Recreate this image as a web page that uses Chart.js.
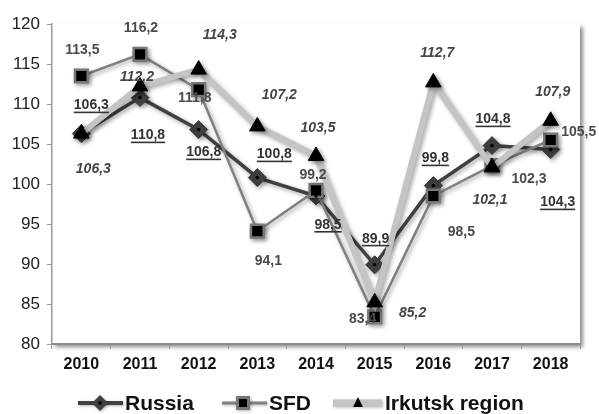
<!DOCTYPE html>
<html>
<head>
<meta charset="utf-8">
<script src="https://cdn.jsdelivr.net/npm/chart.js@4/dist/chart.umd.min.js"></script>
<style>
  html, body { margin: 0; padding: 0; background: #fff; }
  #wrap { width: 599px; height: 414px; }
</style>
</head>
<body>
<div id="wrap"><canvas id="chart" width="599" height="414"></canvas></div>
<script>
const years = ['2010', '2011', '2012', '2013', '2014', '2015', '2016', '2017', '2018'];
const russia = [106.3, 110.8, 106.8, 100.8, 98.5, 89.9, 99.8, 104.8, 104.3];
const sfd = [113.5, 116.2, 111.8, 94.1, 99.2, 83.4, 98.5, 102.3, 105.5];
const irkutsk = [106.3, 112.2, 114.3, 107.2, 103.5, 85.2, 112.7, 102.1, 107.9];

// where each value label sits, relative to its point (px)
const russiaLabelShift = [[10, -28], [8, 38], [5, 23], [17, -23], [12, 29], [1, -26], [2, -27], [1, -26], [7, 53]];
const sfdLabelShift = [[1, -26], [1, -26], [-4, 9], [11, 30], [-3, -15], [-12, 2], [28, 36], [37, 14], [28, -8]];
const irkLabelShift = [[12, 36], [-3, -9], [21, -34], [22, -31], [2, -28], [38, 11], [4, -29], [-2, 33], [2, -29]];

const fmt = v => v.toFixed(1).replace('.', ',');

// white plot area with a soft shadow on the right and bottom
const plotShadow = {
    id: 'plotShadow',
    beforeDraw(chart) {
        const { ctx, chartArea: a } = chart;
        ctx.save();
        ctx.shadowColor = 'rgba(0,0,0,0.45)';
        ctx.shadowBlur = 4;
        ctx.shadowOffsetX = 3;
        ctx.shadowOffsetY = 3;
        ctx.fillStyle = '#fff';
        ctx.fillRect(a.left, a.top, a.right - a.left, a.bottom - a.top);
        ctx.restore();
    }
};

// shadows under lines and markers
const markShadow = {
    id: 'markShadow',
    beforeDatasetDraw(chart) {
        const ctx = chart.ctx;
        ctx.save();
        ctx.shadowColor = 'rgba(0,0,0,0.35)';
        ctx.shadowBlur = 4;
        ctx.shadowOffsetX = 2;
        ctx.shadowOffsetY = 2;
    },
    afterDatasetDraw(chart) {
        chart.ctx.restore();
    }
};

const valueLabels = {
    id: 'valueLabels',
    afterDatasetsDraw(chart) {
        const ctx = chart.ctx;
        // black dot in the middle of each Russia diamond
        chart.getDatasetMeta(0).data.forEach(p => {
            ctx.beginPath();
            ctx.arc(p.x, p.y, 1.8, 0, Math.PI * 2);
            ctx.fillStyle = '#000';
            ctx.fill();
        });

        const sets = [
            { vals: russia, shift: russiaLabelShift, font: 'bold 14px "Liberation Sans", Arial', color: '#333', underline: true },
            { vals: sfd, shift: sfdLabelShift, font: 'bold 14px "Liberation Sans", Arial', color: '#4a4a4a', underline: false },
            { vals: irkutsk, shift: irkLabelShift, font: 'italic bold 14px "Liberation Sans", Arial', color: '#444', underline: false }
        ];
        ctx.save();
        ctx.textAlign = 'center';
        ctx.textBaseline = 'middle';
        sets.forEach((s, di) => {
            const meta = chart.getDatasetMeta(di);
            meta.data.forEach((p, i) => {
                const x = p.x + s.shift[i][0];
                const y = p.y + s.shift[i][1];
                const txt = fmt(s.vals[i]);
                ctx.font = s.font;
                ctx.fillStyle = s.color;
                ctx.fillText(txt, x, y);
                if (s.underline) {
                    const w = ctx.measureText(txt).width;
                    ctx.fillRect(x - w / 2, y + 6, w, 1.6);
                }
            });
        });
        ctx.restore();
    }
};

// legend with line + marker samples
const legendRow = {
    id: 'legendRow',
    afterDraw(chart) {
        const ctx = chart.ctx;
        const y = 403;
        ctx.save();
        ctx.shadowColor = 'rgba(0,0,0,0.3)';
        ctx.shadowBlur = 3;
        ctx.shadowOffsetX = 1;
        ctx.shadowOffsetY = 1;

        // Russia
        ctx.strokeStyle = '#404040';
        ctx.lineWidth = 4;
        ctx.beginPath(); ctx.moveTo(78, y); ctx.lineTo(123, y); ctx.stroke();
        ctx.fillStyle = '#404040';
        ctx.beginPath();
        ctx.moveTo(100, y - 8); ctx.lineTo(108, y); ctx.lineTo(100, y + 8); ctx.lineTo(92, y);
        ctx.closePath(); ctx.fill();

        // SFD
        ctx.strokeStyle = '#808080';
        ctx.lineWidth = 3;
        ctx.beginPath(); ctx.moveTo(222, y); ctx.lineTo(267, y); ctx.stroke();
        ctx.fillStyle = '#777';
        ctx.fillRect(236, y - 7, 14, 14);

        // Irkutsk region
        ctx.strokeStyle = '#c4c4c4';
        ctx.lineWidth = 7;
        ctx.beginPath(); ctx.moveTo(333, y); ctx.lineTo(382, y); ctx.stroke();
        ctx.restore();

        ctx.save();
        ctx.fillStyle = '#000';
        ctx.beginPath(); ctx.arc(100, y, 1.8, 0, Math.PI * 2); ctx.fill();
        ctx.fillRect(239, y - 4, 8, 8);
        ctx.beginPath();
        ctx.moveTo(358, y - 6); ctx.lineTo(363, y + 4); ctx.lineTo(353, y + 4);
        ctx.closePath(); ctx.fill();

        ctx.font = 'bold 21px "Liberation Sans", Arial';
        ctx.textBaseline = 'middle';
        ctx.fillStyle = '#111';
        ctx.fillText('Russia', 125, y + 1);
        ctx.fillText('SFD', 269, y + 1);
        ctx.fillText('Irkutsk region', 385, y + 1);
        ctx.restore();
    }
};

new Chart(document.getElementById('chart'), {
    type: 'line',
    data: {
        labels: years,
        datasets: [{
            label: 'Russia',
            data: russia,
            borderColor: '#404040',
            borderWidth: 3.5,
            pointStyle: 'rectRot',
            pointRadius: 9,
            pointBackgroundColor: '#404040',
            pointBorderColor: '#3a3a3a',
            pointBorderWidth: 1,
            order: 3
        }, {
            label: 'SFD',
            data: sfd,
            borderColor: '#808080',
            borderWidth: 2.5,
            pointStyle: 'rect',
            pointRadius: 9,
            pointBackgroundColor: '#000',
            pointBorderColor: '#777',
            pointBorderWidth: 2.5,
            order: 2
        }, {
            label: 'Irkutsk region',
            data: irkutsk,
            borderColor: '#c4c4c4',
            borderWidth: 6,
            pointStyle: 'triangle',
            pointRadius: 9,
            pointBackgroundColor: '#000',
            pointBorderColor: '#000',
            pointBorderWidth: 1,
            order: 1
        }]
    },
    options: {
        responsive: false,
        animation: false,
        layout: { padding: { top: 24, right: 19, bottom: 30, left: 0 } },
        plugins: {
            legend: { display: false },
            tooltip: { enabled: false }
        },
        scales: {
            x: {
                offset: true,
                grid: {
                    display: true,
                    offset: true,
                    drawOnChartArea: false,
                    drawTicks: true,
                    tickLength: 5,
                    color: '#999'
                },
                border: { display: true, color: '#8a8a8a', width: 2 },
                ticks: {
                    color: '#111',
                    padding: 6,
                    font: { family: '"Liberation Sans", Arial', size: 16, weight: 'bold' }
                },
                afterFit(scale) { scale.height = 40; }
            },
            y: {
                min: 80,
                max: 120,
                grid: {
                    display: true,
                    drawOnChartArea: false,
                    drawTicks: true,
                    tickLength: 5,
                    color: '#999'
                },
                border: { display: true, color: '#999', width: 1.5 },
                ticks: {
                    stepSize: 5,
                    color: '#222',
                    padding: 7,
                    font: { family: '"Liberation Sans", Arial', size: 17 }
                },
                afterFit(scale) { scale.width = 52; }
            }
        }
    },
    plugins: [plotShadow, markShadow, valueLabels, legendRow]
});
</script>
</body>
</html>
